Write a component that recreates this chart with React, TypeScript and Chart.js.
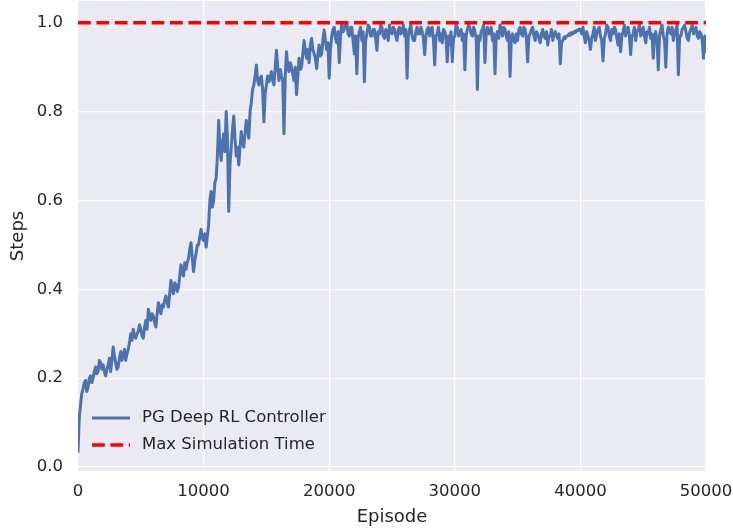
import React, { useEffect, useRef } from "react";
import { Chart, registerables } from "chart.js";

Chart.register(...registerables);

// ---- data ----
const episodeStep = 100;
const steps: number[] = [
  0.035, 0.11, 0.14, 0.165, 0.175, 0.19, 0.195, 0.17, 0.18, 0.2, 0.205, 0.19, 0.2, 0.215, 0.225, 0.21, 0.215, 0.24, 0.235, 0.22,
  0.23, 0.215, 0.205, 0.22, 0.23, 0.245, 0.215, 0.24, 0.27, 0.25, 0.235, 0.22, 0.225, 0.245, 0.26, 0.24, 0.25, 0.265, 0.24, 0.255,
  0.265, 0.28, 0.3, 0.285, 0.31, 0.295, 0.29, 0.3, 0.305, 0.32, 0.31, 0.295, 0.29, 0.315, 0.33, 0.31, 0.355, 0.34, 0.33, 0.345,
  0.34, 0.325, 0.315, 0.345, 0.37, 0.355, 0.345, 0.365, 0.36, 0.375, 0.385, 0.37, 0.36, 0.39, 0.42, 0.4, 0.39, 0.415, 0.41, 0.395,
  0.405, 0.43, 0.455, 0.44, 0.43, 0.46, 0.445, 0.46, 0.47, 0.49, 0.505, 0.47, 0.44, 0.465, 0.48, 0.5, 0.5, 0.52, 0.535, 0.515,
  0.51, 0.525, 0.495, 0.52, 0.545, 0.6, 0.62, 0.585, 0.6, 0.64, 0.65, 0.7, 0.78, 0.72, 0.69, 0.73, 0.75, 0.71, 0.8, 0.74,
  0.575, 0.68, 0.72, 0.76, 0.79, 0.74, 0.7, 0.72, 0.68, 0.72, 0.755, 0.73, 0.72, 0.75, 0.78, 0.76, 0.74, 0.8, 0.82, 0.85,
  0.86, 0.88, 0.905, 0.87, 0.86, 0.875, 0.88, 0.85, 0.777, 0.84, 0.86, 0.88, 0.867, 0.875, 0.89, 0.87, 0.86, 0.9, 0.938, 0.9,
  0.87, 0.895, 0.88, 0.87, 0.75, 0.88, 0.935, 0.9, 0.89, 0.91, 0.9, 0.885, 0.87, 0.9, 0.838, 0.88, 0.92, 0.895, 0.9, 0.93,
  0.96, 0.935, 0.92, 0.94, 0.91, 0.95, 0.965, 0.94, 0.93, 0.92, 0.897, 0.93, 0.95, 0.925, 0.93, 0.96, 0.984, 0.96, 0.94, 0.955,
  0.875, 0.94, 0.97, 0.985, 0.99, 0.965, 0.955, 0.98, 0.91, 0.97, 0.998, 0.98, 0.985, 0.995, 1.0, 0.975, 0.97, 0.99, 0.99, 0.96,
  0.93, 0.97, 0.885, 0.965, 0.98, 0.99, 0.96, 0.98, 0.867, 0.96, 0.975, 0.995, 0.99, 0.97, 0.97, 0.985, 0.985, 0.965, 0.938, 0.98,
  0.975, 0.995, 0.99, 0.97, 0.965, 0.985, 0.98, 0.96, 0.995, 0.98, 0.975, 0.99, 0.985, 0.97, 0.96, 0.985, 0.99, 0.975, 0.98, 0.995,
  0.97, 0.985, 0.875, 0.97, 0.985, 0.995, 0.97, 0.96, 0.96, 0.98, 0.99, 0.975, 0.975, 0.99, 0.98, 0.965, 0.928, 0.97, 0.985, 0.99,
  0.97, 0.985, 0.99, 0.96, 0.905, 0.97, 0.975, 0.99, 0.96, 0.975, 0.955, 0.985, 0.98, 0.965, 0.912, 0.97, 0.95, 0.98, 0.912, 0.965,
  0.97, 0.995, 0.99, 0.97, 0.975, 0.985, 0.96, 0.975, 0.894, 0.97, 0.985, 0.995, 0.99, 0.975, 0.97, 0.99, 0.98, 0.965, 0.85, 0.97,
  0.96, 0.98, 0.985, 0.995, 0.91, 0.975, 0.99, 0.975, 0.975, 0.99, 0.96, 0.975, 0.885, 0.97, 0.98, 0.965, 0.995, 0.985, 0.97, 0.99,
  0.985, 0.97, 0.96, 0.98, 0.879, 0.965, 0.975, 0.96, 0.955, 0.975, 0.96, 0.985, 0.99, 0.975, 0.97, 0.99, 0.985, 0.965, 0.912, 0.97,
  0.975, 0.985, 0.99, 0.97, 0.96, 0.98, 0.975, 0.965, 0.955, 0.975, 0.985, 0.97, 0.965, 0.98, 0.95, 0.97, 0.97, 0.985, 0.96, 0.975,
  0.98, 0.97, 0.965, 0.975, 0.908, 0.955, 0.96, 0.968, 0.965, 0.97, 0.97, 0.975, 0.972, 0.978, 0.975, 0.98, 0.978, 0.983, 0.982, 0.986,
  0.985, 0.975, 0.99, 0.97, 0.955, 0.98, 0.97, 0.96, 0.94, 0.965, 0.975, 0.99, 0.96, 0.975, 0.985, 0.99, 0.97, 0.96, 0.914, 0.965,
  0.975, 0.995, 0.99, 0.97, 0.96, 0.985, 0.975, 0.99, 0.985, 0.965, 0.95, 0.975, 0.935, 0.97, 0.98, 0.995, 0.97, 0.985, 0.99, 0.97,
  0.928, 0.97, 0.975, 0.99, 0.96, 0.98, 0.985, 0.995, 0.97, 0.975, 0.99, 0.97, 0.955, 0.98, 0.975, 0.99, 0.965, 0.975, 0.92, 0.97,
  0.98, 0.96, 0.894, 0.97, 0.985, 0.995, 0.97, 0.96, 0.9, 0.975, 0.99, 0.98, 0.975, 0.99, 0.96, 0.975, 0.985, 0.995, 0.883, 0.97,
  0.97, 0.985, 0.99, 0.995, 0.98, 0.965, 0.96, 0.98, 0.985, 0.995, 0.975, 0.985, 0.99, 0.97, 0.965, 0.98, 0.975, 0.96, 0.92, 0.97,
  0.935,
];
const maxSimTime = 1.0;
const seriesLabels = ["PG Deep RL Controller", "Max Simulation Time"];
const xTicks = [0, 10000, 20000, 30000, 40000, 50000];
const yTicks = [0.0, 0.2, 0.4, 0.6, 0.8, 1.0];
const xRange = [0, 50000];
const yRange = [-0.009, 1.049];

// ---- styles ----
const FONT = "'DejaVu Sans', 'Liberation Sans', sans-serif";
const TEXT = "#262626";
const BLUE = "#4C72B0";
const RED = "#FF0000";
const BG = "#EAEAF2";
const DASH = [12.8, 5.6];

const bgPlugin = {
  id: "bgPlugin",
  beforeDraw(chart: any) {
    const { ctx, chartArea: a } = chart;
    ctx.save();
    ctx.fillStyle = BG;
    ctx.fillRect(a.left, a.top, a.right - a.left, a.bottom - a.top);
    ctx.restore();
  },
};

const insideLegend = {
  id: "insideLegend",
  afterDraw(chart: any) {
    const { ctx, chartArea: a } = chart;
    const rows = [
      { label: seriesLabels[0], color: BLUE, dash: [] as number[], width: 3, dy: -53 },
      { label: seriesLabels[1], color: RED, dash: DASH, width: 3.4, dy: -26 },
    ];
    ctx.save();
    rows.forEach((r) => {
      const y = a.bottom + r.dy;
      ctx.beginPath();
      ctx.setLineDash(r.dash);
      ctx.lineWidth = r.width;
      ctx.strokeStyle = r.color;
      ctx.moveTo(a.left + 14, y);
      ctx.lineTo(a.left + 52, y);
      ctx.stroke();
      ctx.setLineDash([]);
      ctx.fillStyle = TEXT;
      ctx.font = `16.5px ${FONT}`;
      ctx.textAlign = "left";
      ctx.textBaseline = "middle";
      ctx.fillText(r.label, a.left + 64, y);
    });
    ctx.restore();
  },
};

export default function App() {
  const ref = useRef<HTMLCanvasElement | null>(null);

  useEffect(() => {
    if (!ref.current) return;
    const stepsData = steps.map((v, i) => ({ x: i * episodeStep, y: v }));
    const maxData = [
      { x: xRange[0], y: maxSimTime },
      { x: xRange[1], y: maxSimTime },
    ];
    const chart = new Chart(ref.current, {
      type: "line",
      data: {
        datasets: [
          {
            label: seriesLabels[0],
            data: stepsData,
            borderColor: BLUE,
            borderWidth: 3,
            borderJoinStyle: "round",
            borderCapStyle: "round",
            pointRadius: 0,
            tension: 0,
            order: 1,
          },
          {
            label: seriesLabels[1],
            data: maxData,
            borderColor: RED,
            borderWidth: 3.4,
            borderDash: DASH,
            pointRadius: 0,
            order: 0,
          },
        ],
      },
      options: {
        responsive: false,
        animation: false,
        devicePixelRatio: 1,
        layout: { padding: { left: 0, right: 27, top: 1, bottom: 0 } },
        plugins: {
          legend: { display: false },
          tooltip: { enabled: false },
        },
        scales: {
          x: {
            type: "linear",
            min: xRange[0],
            max: xRange[1],
            afterBuildTicks: (s: any) => {
              s.ticks = xTicks.map((v) => ({ value: v }));
            },
            afterFit: (s: any) => {
              s.height = 58;
              s.paddingLeft = 0;
              s.paddingRight = 0;
            },
            ticks: {
              callback: (v: any) => String(v),
              color: TEXT,
              font: { family: FONT, size: 16.5 },
              padding: 11,
              maxRotation: 0,
              autoSkip: false,
            },
            grid: { color: "#FFFFFF", lineWidth: 1.2, drawTicks: false },
            border: { display: false },
            title: {
              display: true,
              text: "Episode",
              color: TEXT,
              font: { family: FONT, size: 18 },
              padding: { top: 0, bottom: 1 },
            },
          },
          y: {
            type: "linear",
            min: yRange[0],
            max: yRange[1],
            afterBuildTicks: (s: any) => {
              s.ticks = yTicks.map((v) => ({ value: v }));
            },
            afterFit: (s: any) => {
              s.width = 78;
              s.paddingTop = 0;
              s.paddingBottom = 0;
            },
            ticks: {
              callback: (v: any) => Number(v).toFixed(1),
              color: TEXT,
              font: { family: FONT, size: 16.5 },
              padding: 15,
              autoSkip: false,
            },
            grid: { color: "#FFFFFF", lineWidth: 1.2, drawTicks: false },
            border: { display: false },
            title: {
              display: true,
              text: "Steps",
              color: TEXT,
              font: { family: FONT, size: 18 },
              padding: { top: 8, bottom: 0 },
            },
          },
        },
      },
      plugins: [bgPlugin, insideLegend],
    } as any);
    return () => chart.destroy();
  }, []);

  return (
    <div style={{ position: "fixed", left: 0, top: 0, width: 733, height: 529, background: "#FFFFFF" }}>
      <canvas ref={ref} width={733} height={529} style={{ display: "block", width: 733, height: 529 }} />
    </div>
  );
}
